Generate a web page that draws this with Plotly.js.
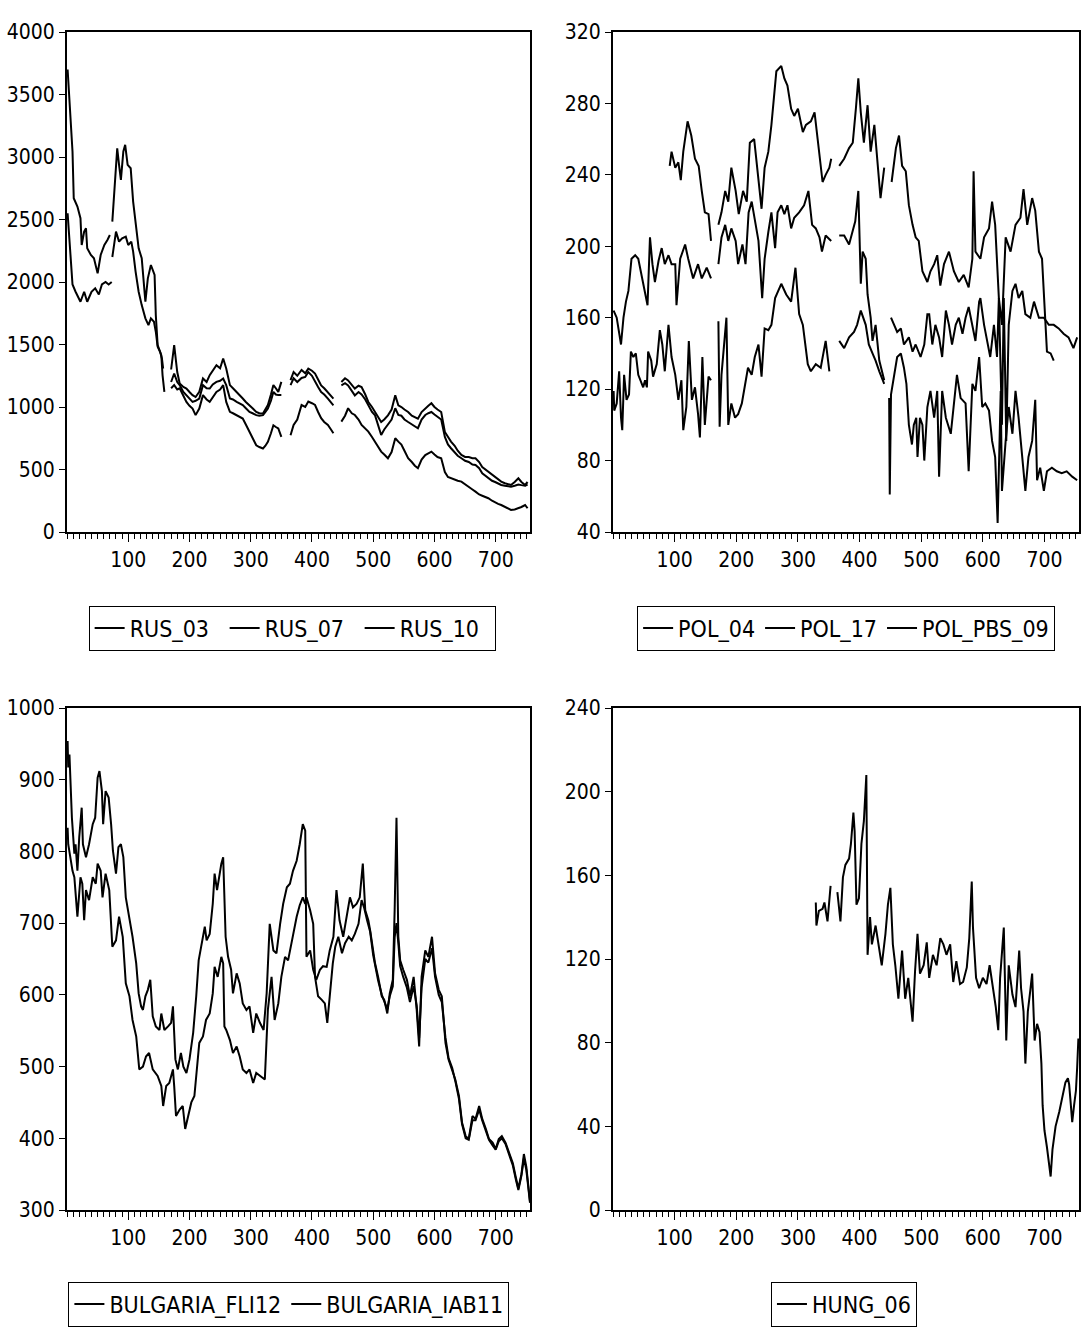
<!DOCTYPE html>
<html>
<head>
<meta charset="utf-8">
<script src="https://cdn.plot.ly/plotly-3.0.1.min.js"></script>
<style>
  html, body { margin: 0; padding: 0; background: #fff; }
  #chart { width: 1082px; height: 1327px; }
</style>
</head>
<body>
<div id="chart"></div>
<script>
// ---------- Russia: RUS_03 / RUS_07 / RUS_10 ----------
const rus03T1 = [1,3,6,9,11,17,22,24,28,31,33,39,44,50,55,61,66,70];
const rus03V1 = [3700,3550,3257,3044,2670,2603,2510,2296,2403,2430,2270,2216,2190,2069,2216,2296,2336,2376];
const rus03T2 = [74,80,85,90,96,100,105,108,112,117,122,128,133,137,142,145,148,152,155,157];
const rus03V2 = [2200,2403,2323,2350,2363,2296,2323,2243,2083,1922,1815,1709,1655,1709,1682,1602,1482,1442,1388,1308];
const rus07T1 = [1,3,5,9,14,18,22,28,33,40,46,52,57,63,68,73];
const rus07V1 = [2550,2400,2250,1980,1922,1880,1842,1922,1842,1922,1950,1900,1980,2000,1980,2000];
const rus10T1 = [74,77,82,85,88,92,95,99,104,108,113,117,122,125,128,132,137,143,145,148,154,156,159];
const rus10V1 = [2483,2723,3070,2937,2817,3044,3097,2937,2910,2643,2456,2270,2190,2029,1842,2029,2136,2056,1735,1495,1415,1255,1121];
// later observations shared by all three Russian series (null = missing)
const rusTailT = [170,175,180,184,190,195,200,205,210,216,222,228,233,238,244,250,255,260,266,271,277,282,287,292,298,303,309,314,320,324,328,333,337,341,345,350,
  357,
  365,370,376,383,389,394,400,405,410,415,420,426,431,435,
  441,
  448,454,459,465,470,476,481,487,492,498,503,508,513,518,524,530,536,541,546,551,557,563,568,573,579,585,590,595,600,605,611,617,622,627,633,638,644,650,656,662,667,673,678,683,688,694,699,704,709,715,720,725,731,737,742,748,752];
const rus03Tail = [1200,1268,1200,1175,1120,1095,1070,1041,1050,1068,1175,1150,1148,1180,1201,1210,1228,1175,1068,1060,1041,1030,1015,990,961,950,935,930,935,960,988,1050,1121,1100,1095,1095,
  null,
  1175,1230,1200,1232,1240,1280,1250,1200,1160,1120,1100,1067,1040,1013,
  null,
  1173,1190,1173,1130,1093,1120,1100,1060,1013,960,933,850,776,820,856,900,990,936,930,900,880,860,850,830,900,936,950,960,940,920,900,760,700,670,640,610,590,570,560,540,536,510,470,450,430,410,400,385,376,370,366,363,370,380,375,370,380];
const rus07Tail = [1150,1175,1140,1150,1090,1041,1010,988,935,988,1095,1060,1041,1080,1121,1140,1175,1041,961,950,935,920,908,860,801,750,694,680,668,690,721,790,854,840,828,761,
  null,
  774,856,900,1016,1000,1043,1030,1016,960,910,880,856,820,790,
  null,
  883,930,990,950,936,900,856,830,803,760,723,680,643,620,590,640,750,723,700,650,590,560,530,510,580,616,630,643,620,600,590,480,440,430,420,410,403,380,360,340,323,300,290,280,270,250,235,225,216,200,185,176,180,190,200,216,190];
const rus10Tail = [1300,1495,1280,1188,1160,1148,1120,1095,1080,1121,1228,1200,1255,1290,1335,1310,1388,1308,1175,1150,1121,1100,1068,1040,1015,990,961,950,948,980,1015,1100,1175,1150,1121,1201,
  null,
  1215,1280,1250,1296,1270,1307,1290,1267,1220,1173,1150,1120,1090,1067,
  null,
  1200,1230,1213,1180,1147,1170,1160,1100,1040,1000,960,930,880,900,933,980,1093,1013,1000,980,960,930,920,906,960,990,1010,1030,1000,980,960,800,760,723,690,650,616,600,600,590,590,560,520,500,483,460,440,420,403,390,385,376,400,430,400,376,400];

// ---------- Poland: POL_04 / POL_17 / POL_PBS_09 ----------
const pol04T1 = [92,95,101,106,110,114,121,127,133,139,144,149,155,159];
const pol04V1 = [245,253,244,247,237,253,270,262,249,245,231,219,218,203];
const pol04T2 = [171,176,182,187,192,199,204,211,217,222,229,236,241,246,252,257,263,265,273,278,283,289,294,300,308,313,321,327,332,337,340,345,351,354];
const pol04V2 = [212,219,231,225,244,231,218,231,225,258,260,238,221,244,253,268,290,298,301,294,290,277,273,277,264,268,270,275,260,245,236,240,244,249];
const pol04T3 = [367,375,383,389,394,398,402,407,413,418,424,429,434,440];
const pol04V3 = [245,249,255,258,277,294,275,258,279,253,268,249,227,244];
const pol04T4 = [452,459,464,469,475,480,486,491,496,502,510,515,521,526,531,537,545,553,561,569,577,583,585,588,596,602,610,615,620,626,631,637,645,653,661,666,672,680,685,691,696,700,704,710,715];
const pol04V4 = [236,255,262,245,242,223,212,205,203,186,180,186,190,195,178,190,197,186,180,184,177,193,242,197,193,205,210,225,212,171,156,205,197,212,216,232,212,227,220,197,193,167,141,140,136];

const pol17T1 = [1,6,13,17,21,25,30,36,41,47,52,56,60,64,68,74,79,84,90,95,101,103,109,117,122,130,138,144,152,159];
const pol17V1 = [164,160,145,160,169,175,193,195,193,182,175,167,205,190,180,192,199,190,195,190,190,167,193,201,193,182,190,182,188,182];
const pol17T2 = [171,176,182,187,192,199,203,210,215,220,225,230,236,242,246,252,257,263,267,273,278,283,289,294,302,310,317,323,329,335,339,345,354];
const pol17V2 = [190,205,212,203,210,203,190,201,190,219,225,216,203,171,193,208,219,199,219,223,218,223,210,216,219,223,231,212,210,205,197,206,203];
const pol17T3 = [367,375,383,389,393,398,402,405,410,413,418,421,426,432,437,440];
const pol17V3 = [206,206,201,208,214,231,179,197,193,173,160,147,156,136,128,125];
const pol17T4 = [451,456,461,467,472,480,486,491,499,505,510,513,518,523,529,534,540,545,550,556,561,567,572,577,583,588,594,596,602,607,612,618,623,626,631,634,638,642,648,653,658,664,669,677,683,691,699,707,715,723,731,739,747,753];
const pol17V4 = [160,156,152,154,145,149,141,145,138,145,162,162,145,156,149,138,164,156,145,156,160,151,160,166,156,147,169,171,156,147,138,156,138,171,100,171,91,156,175,179,171,175,162,160,169,160,160,156,156,154,151,149,143,149];

const pbs09T1 = [1,2,6,10,13,15,18,22,26,29,33,37,41,46,49,52,55,57,62,65,71,76,80,84,90,95,101,106,111,114,119,123,128,133,138,141,145,149,155,159];
const pbs09V1 = [119,108,112,130,104,97,128,114,117,141,138,140,128,123,121,125,121,141,136,127,134,153,145,130,156,138,128,114,125,97,110,147,114,121,106,93,138,100,127,125];
const pbs09T2 = [171,173,176,184,187,192,198,203,209,214,219,225,230,236,241,246,252,257,263,273,281,289,296,302,308,316,321,329,337,345,351];
const pbs09V2 = [158,99,128,160,100,112,104,106,112,123,132,128,138,145,127,154,153,156,171,179,173,169,188,162,156,134,130,134,132,147,130];
const pbs09T3 = [367,375,383,391,396,402,410,415,421,426,432,437,440];
const pbs09V3 = [147,143,149,152,156,164,156,145,140,136,130,126,123];
const pbs09T4 = [448,449,451,456,461,467,472,476,480,485,488,492,494,498,502,505,510,515,521,526,529,534,540,548,553,558,564,572,577,583,588,594,599,604,610,615,620,624,629,631,637,642,648,653,658,664,669,674,680,685,688,693,699,704,712,720,728,736,745,753];
const pbs09V4 = [115,61,117,128,138,140,132,123,100,89,100,104,82,104,100,80,110,119,104,119,71,119,104,95,110,128,115,112,74,123,119,138,110,112,108,91,82,45,119,63,91,110,95,119,104,82,63,82,91,114,69,76,63,74,76,74,73,74,71,69];

// ---------- Bulgaria: FLI12 / IAB11 ----------
const fliT = [1,2,4,8,12,14,17,20,24,26,31,36,42,46,50,53,57,59,63,68,72,75,80,84,88,92,96,102,107,113,117,121,124,128,132,136,140,145,151,154,159,165,170,173,177,181,186,190,195,200,206,211,215,219,225,228,233,238,241,245,248,252,255,259,263,268,271,277,282,287,293,298,304,309,315,321,326,331,337,342,348,353,359,364,369,375,380,385,389,391,397,402,407,413,418,424,429,435,440,445,451,456,462,467,473,478,483,487,492];
const fliV = [954,917,935,847,797,810,773,820,861,810,792,810,838,847,903,912,884,838,884,875,838,801,769,806,810,792,736,709,681,644,602,584,579,598,607,621,570,556,551,574,551,556,561,584,510,496,519,500,491,510,547,598,648,667,695,676,685,727,769,746,764,783,792,681,653,635,602,630,616,588,579,584,547,574,561,551,602,699,662,658,699,727,750,755,773,787,810,838,829,653,662,635,621,635,640,639,662,681,746,704,681,709,736,722,727,736,783,718,704];
const iabT = [1,2,9,12,17,20,22,25,28,31,36,42,47,50,55,58,63,69,74,80,85,91,96,102,107,113,118,124,129,134,140,148,154,157,162,167,173,175,178,184,189,193,197,203,208,211,216,222,227,233,238,241,246,252,255,257,260,266,271,277,282,287,293,298,304,309,315,323,328,334,339,345,350,356,361,369,375,380,385,389,391,397,402,405,410,416,421,425,429,434,438,443,449,454,460,465,470,476,481,485,490];
const iabV = [833,810,773,764,709,736,764,755,704,746,732,764,755,783,773,736,769,746,667,676,709,681,616,598,565,542,496,500,514,519,496,487,473,445,473,477,496,473,431,440,445,413,427,450,459,491,533,542,565,574,602,639,625,653,644,556,551,537,519,528,514,496,491,496,477,491,487,482,579,625,565,588,625,653,648,685,709,725,736,727,736,718,699,625,598,593,588,561,602,644,667,681,658,672,681,676,685,699,732,722,704];
// from t = 495 the two Bulgarian series run almost on top of each other
const bgTailT = [495,500,503,508,514,518,523,527,532,535,538,541,544,549,555,560,566,571,575,579,585,590,596,601,607,612,618,623,629,634,640,645,651,656,662,667,673,678,684,689,695,700,705,710,716,722,728,733,737,742,746,750,753,756];
const fliTail = [690,660,644,625,598,593,574,602,621,718,847,681,648,635,621,598,625,579,528,625,662,653,681,630,607,598,533,510,496,482,459,422,403,399,431,427,445,427,413,399,394,385,399,403,394,380,365,345,330,350,378,360,330,312];
const iabTail = [688,655,640,620,600,590,580,598,612,680,700,672,640,625,610,590,612,585,540,610,650,645,665,625,600,590,540,512,498,480,455,420,400,398,425,425,440,425,410,398,390,384,396,400,392,378,362,342,328,348,372,356,328,310];

// ---------- Hungary: HUNG_06 ----------
const hungT = [329,330,334,340,343,348,353,358,364,369,373,377,383,386,390,392,395,399,403,407,411,413,417,420,426,431,436,442,446,450,454,458,463,469,474,479,483,486,490,494,498,504,509,513,519,525,531,536,541,547,552,557,563,568,574,578,582,584,589,594,600,606,611,617,621,625,628,634,638,642,648,653,659,662,666,669,673,677,680,684,688,692,695,697,700,704,707,710,713,718,724,729,734,738,740,742,745,748,751,753,755];
const hungV = [147,136,143,144,147,138,155,null,152,138,159,165,168,175,190,181,146,149,175,186,208,122,140,127,136,127,117,132,146,154,127,117,101,124,101,111,98,90,114,132,113,117,128,111,122,117,130,127,122,127,109,119,108,109,116,130,157,135,111,106,111,108,117,106,97,86,111,135,81,117,103,97,124,106,95,70,95,105,113,81,89,85,70,50,38,30,24,16,29,40,47,54,61,63,60,53,42,50,57,68,82];

// axis tick values
const obsTicks = [100, 200, 300, 400, 500, 600, 700];

// joins observation segments, leaving a break (null) between consecutive pieces
function joinSegments(segments) {
  const x = [], y = [];
  segments.forEach(function (seg, i) {
    if (i > 0) { x.push((x[x.length - 1] + seg[0][0]) / 2); y.push(null); }
    x.push.apply(x, seg[0]);
    y.push.apply(y, seg[1]);
  });
  return { x: x, y: y };
}

const FONT = "'Liberation Sans Narrow', 'Arial Narrow', 'DejaVu Sans Condensed', sans-serif";
const LINE = { color: '#000', width: 2 };

function series(name, data, ax, legend) {
  return {
    type: 'scatter', mode: 'lines', name: name,
    x: data.x, y: data.y,
    xaxis: 'x' + ax, yaxis: 'y' + ax,
    legend: legend, line: LINE, connectgaps: false, hoverinfo: 'skip'
  };
}

const traces = [
  series('RUS_03', joinSegments([[rus03T1, rus03V1], [rus03T2, rus03V2], [rusTailT, rus03Tail]]), '', 'legend'),
  series('RUS_07', joinSegments([[rus07T1, rus07V1], [rusTailT, rus07Tail]]), '', 'legend'),
  series('RUS_10', joinSegments([[rus10T1, rus10V1], [rusTailT, rus10Tail]]), '', 'legend'),
  series('POL_04', joinSegments([[pol04T1, pol04V1], [pol04T2, pol04V2], [pol04T3, pol04V3], [pol04T4, pol04V4]]), '2', 'legend2'),
  series('POL_17', joinSegments([[pol17T1, pol17V1], [pol17T2, pol17V2], [pol17T3, pol17V3], [pol17T4, pol17V4]]), '2', 'legend2'),
  series('POL_PBS_09', joinSegments([[pbs09T1, pbs09V1], [pbs09T2, pbs09V2], [pbs09T3, pbs09V3], [pbs09T4, pbs09V4]]), '2', 'legend2'),
  series('BULGARIA_FLI12', { x: fliT.concat(bgTailT), y: fliV.concat(fliTail) }, '3', 'legend3'),
  series('BULGARIA_IAB11', { x: iabT.concat(bgTailT), y: iabV.concat(iabTail) }, '3', 'legend3'),
  series('HUNG_06', { x: hungT, y: hungV }, '4', 'legend4')
];

const W = 1082, H = 1327;
const colL = [67 / W, 530 / W], colR = [613 / W, 1079 / W];
const rowT = [1 - 532 / H, 1 - 32 / H], rowB = [1 - 1210 / H, 1 - 708 / H];
const tickFont = { family: FONT, size: 21, color: '#000' };

function xAxis(domain, anchor) {
  return {
    domain: domain, anchor: anchor, range: [0, 756],
    tickmode: 'array', tickvals: obsTicks, ticktext: obsTicks.map(String),
    ticks: 'outside', ticklen: 8, tickwidth: 1, tickcolor: '#000',
    minor: { dtick: 10, tick0: 0, ticks: 'outside', ticklen: 5, tickwidth: 1, tickcolor: '#000', showgrid: false },
    showline: true, mirror: true, linecolor: '#000', linewidth: 2,
    showgrid: false, zeroline: false, tickfont: tickFont, fixedrange: true
  };
}
function yAxis(domain, anchor, range, step) {
  return {
    domain: domain, anchor: anchor, range: range,
    tick0: range[0], dtick: step,
    ticks: 'outside', ticklen: 6, tickwidth: 1, tickcolor: '#000',
    showline: true, mirror: true, linecolor: '#000', linewidth: 2,
    showgrid: false, zeroline: false, tickfont: tickFont, fixedrange: true
  };
}
function legendBox(xc, yc, entryW) {
  const lg = {
    x: xc, y: yc, xanchor: 'center', yanchor: 'middle', orientation: 'h',
    bordercolor: '#000', borderwidth: 1, bgcolor: '#fff',
    font: { family: FONT, size: 23, color: '#000' }
  };
  if (entryW) lg.entrywidth = entryW;
  return lg;
}

const layout = {
  width: W, height: H,
  margin: { l: 0, r: 0, t: 0, b: 0 },
  paper_bgcolor: '#fff', plot_bgcolor: '#fff',
  showlegend: true,
  xaxis: xAxis(colL, 'y'),   yaxis: yAxis(rowT, 'x', [0, 4000], 500),
  xaxis2: xAxis(colR, 'y2'), yaxis2: yAxis(rowT, 'x2', [40, 320], 40),
  xaxis3: xAxis(colL, 'y3'), yaxis3: yAxis(rowB, 'x3', [300, 1000], 100),
  xaxis4: xAxis(colR, 'y4'), yaxis4: yAxis(rowB, 'x4', [0, 240], 40),
  legend: legendBox(0.27, 1 - 628 / H, 90),
  legend2: legendBox(0.782, 1 - 628 / H),
  legend3: legendBox(0.267, 1 - 1304 / H),
  legend4: legendBox(0.78, 1 - 1304 / H)
};

Plotly.newPlot('chart', traces, layout, { displayModeBar: false, staticPlot: true });
</script>
</body>
</html>
